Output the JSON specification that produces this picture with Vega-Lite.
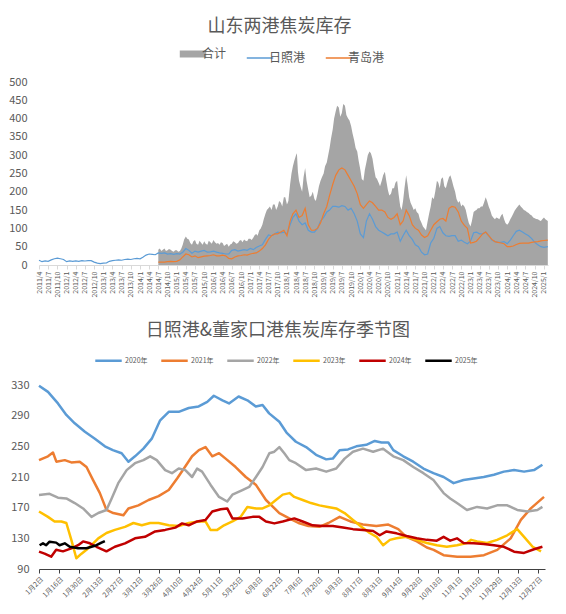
{
"$schema": "https://vega.github.io/schema/vega-lite/v6.json",
"background": "white",
"padding": {"left": 8, "top": 18, "right": 12, "bottom": 4},
"spacing": 24,
"resolve": {"scale": {"color": "independent"}, "legend": {"color": "independent"}},
"config": {
  "view": {"stroke": null},
  "font": "Noto Sans CJK SC",
  "title": {"font": "Noto Sans CJK SC", "fontSize": 18, "fontWeight": "normal", "color": "#595959", "anchor": "middle", "frame": "bounds"},
  "axis": {"grid": false, "labelColor": "#595959", "labelFont": "Noto Sans CJK SC", "title": null},
  "legend": {"labelColor": "#595959", "labelFont": "Noto Sans CJK SC", "title": null}
},
"vconcat": [
{
  "width": 509, "height": 183,
  "title": {"text": "山东两港焦炭库存", "offset": 12},
  "data": {"values": [
{"d":"2011-04-01","日照港":13},{"d":"2011-05-01","日照港":9},{"d":"2011-06-01","日照港":11},{"d":"2011-07-01","日照港":10},{"d":"2011-08-01","日照港":14},{"d":"2011-09-01","日照港":17},{"d":"2011-10-01","日照港":19},{"d":"2011-11-01","日照港":17},{"d":"2011-12-01","日照港":15},
{"d":"2012-01-01","日照港":9},{"d":"2012-02-01","日照港":11},{"d":"2012-03-01","日照港":10},{"d":"2012-04-01","日照港":11},{"d":"2012-05-01","日照港":10},{"d":"2012-06-01","日照港":12},{"d":"2012-07-01","日照港":11},{"d":"2012-08-01","日照港":12},{"d":"2012-09-01","日照港":12},{"d":"2012-10-01","日照港":8},{"d":"2012-11-01","日照港":5},{"d":"2012-12-01","日照港":4},
{"d":"2013-01-01","日照港":5},{"d":"2013-02-01","日照港":6},{"d":"2013-03-01","日照港":10},{"d":"2013-04-01","日照港":12},{"d":"2013-05-01","日照港":13},{"d":"2013-06-01","日照港":14},{"d":"2013-07-01","日照港":13},{"d":"2013-08-01","日照港":15},{"d":"2013-09-01","日照港":16},{"d":"2013-10-01","日照港":15},{"d":"2013-11-01","日照港":17},{"d":"2013-12-01","日照港":18},
{"d":"2014-01-01","日照港":17},{"d":"2014-02-01","日照港":22},{"d":"2014-03-01","日照港":27},{"d":"2014-04-01","日照港":30},{"d":"2014-05-01","日照港":29},{"d":"2014-06-01","日照港":28},
{"d":"2014-07-01","合计":42,"日照港":33,"青岛港":8},{"d":"2014-08-01","合计":38,"日照港":32,"青岛港":8},{"d":"2014-09-01","合计":45,"日照港":33,"青岛港":8},{"d":"2014-10-01","合计":40,"日照港":30,"青岛港":9},{"d":"2014-11-01","合计":42,"日照港":31,"青岛港":10},{"d":"2014-12-01","合计":36,"日照港":29,"青岛港":9},
{"d":"2015-01-01","合计":40,"日照港":31,"青岛港":10},{"d":"2015-02-01","合计":38,"日照港":30,"青岛港":14},{"d":"2015-03-01","合计":55,"日照港":35,"青岛港":22},{"d":"2015-04-01","合计":78,"日照港":45,"青岛港":30},{"d":"2015-05-01","合计":70,"日照港":40,"青岛港":28},{"d":"2015-06-01","合计":55,"日照港":32,"青岛港":22},{"d":"2015-07-01","合计":68,"日照港":38,"青岛港":25},{"d":"2015-08-01","合计":55,"日照港":35,"青岛港":20},{"d":"2015-09-01","合计":60,"日照港":38,"青岛港":22},{"d":"2015-10-01","合计":65,"日照港":40,"青岛港":24},{"d":"2015-11-01","合计":55,"日照港":35,"青岛港":25},{"d":"2015-12-01","合计":62,"日照港":36,"青岛港":26},
{"d":"2016-01-01","合计":68,"日照港":38,"青岛港":28},{"d":"2016-02-01","合计":58,"日照港":35,"青岛港":25},{"d":"2016-03-01","合计":55,"日照港":33,"青岛港":25},{"d":"2016-04-01","合计":60,"日照港":32,"青岛港":27},{"d":"2016-05-01","合计":55,"日照港":30,"青岛港":25},{"d":"2016-06-01","合计":50,"日照港":30,"青岛港":18},{"d":"2016-07-01","合计":58,"日照港":40,"青岛港":17},{"d":"2016-08-01","合计":62,"日照港":42,"青岛港":22},{"d":"2016-09-01","合计":60,"日照港":38,"青岛港":25},{"d":"2016-10-01","合计":68,"日照港":40,"青岛港":26},{"d":"2016-11-01","合计":70,"日照港":42,"青岛港":28},{"d":"2016-12-01","合计":65,"日照港":40,"青岛港":27},
{"d":"2017-01-01","合计":72,"日照港":45,"青岛港":30},{"d":"2017-02-01","合计":75,"日照港":42,"青岛港":32},{"d":"2017-03-01","合计":85,"日照港":48,"青岛港":33},{"d":"2017-04-01","合计":95,"日照港":52,"青岛港":38},{"d":"2017-05-01","合计":110,"日照港":55,"青岛港":45},{"d":"2017-06-01","合计":140,"日照港":70,"青岛港":55},{"d":"2017-07-01","合计":155,"日照港":82,"青岛港":70},{"d":"2017-08-01","合计":150,"日照港":80,"青岛港":80},{"d":"2017-09-01","合计":165,"日照港":85,"青岛港":85},{"d":"2017-10-01","合计":160,"日照港":90,"青岛港":85},{"d":"2017-11-01","合计":170,"日照港":88,"青岛港":90},{"d":"2017-12-01","合计":185,"日照港":90,"青岛港":95},
{"d":"2018-01-01","合计":165,"日照港":85,"青岛港":80},{"d":"2018-02-01","合计":220,"日照港":110,"青岛港":120},{"d":"2018-03-01","合计":270,"日照港":130,"青岛港":140},{"d":"2018-04-01","合计":300,"日照港":140,"青岛港":150},{"d":"2018-05-01","合计":230,"日照港":120,"青岛港":130},{"d":"2018-06-01","合计":200,"日照港":110,"青岛港":135},{"d":"2018-07-01","合计":265,"日照港":115,"青岛港":155},{"d":"2018-08-01","合计":205,"日照港":95,"青岛港":110},{"d":"2018-09-01","合计":190,"日照港":90,"青岛港":95},{"d":"2018-10-01","合计":180,"日照港":90,"青岛港":95},{"d":"2018-11-01","合计":195,"日照港":100,"青岛港":100},{"d":"2018-12-01","合计":230,"日照港":120,"青岛港":115},
{"d":"2019-01-01","合计":250,"日照港":130,"青岛港":140},{"d":"2019-02-01","合计":280,"日照港":145,"青岛港":160},{"d":"2019-03-01","合计":320,"日照港":150,"青岛港":190},{"d":"2019-04-01","合计":370,"日照港":160,"青岛港":220},{"d":"2019-05-01","合计":420,"日照港":160,"青岛港":245},{"d":"2019-06-01","合计":430,"日照港":158,"青岛港":260},{"d":"2019-07-01","合计":415,"日照港":162,"青岛港":265},{"d":"2019-08-01","合计":435,"日照港":160,"青岛港":260},{"d":"2019-09-01","合计":400,"日照港":150,"青岛港":245},{"d":"2019-10-01","合计":380,"日照港":155,"青岛港":230},{"d":"2019-11-01","合计":340,"日照港":140,"青岛港":215},{"d":"2019-12-01","合计":310,"日照港":120,"青岛港":195},
{"d":"2020-01-01","合计":260,"日照港":85,"青岛港":165},{"d":"2020-02-01","合计":230,"日照港":75,"青岛港":155},{"d":"2020-03-01","合计":280,"日照港":120,"青岛港":165},{"d":"2020-04-01","合计":310,"日照港":140,"青岛港":175},{"d":"2020-05-01","合计":290,"日照港":125,"青岛港":170},{"d":"2020-06-01","合计":240,"日照港":105,"青岛港":160},{"d":"2020-07-01","合计":225,"日照港":95,"青岛港":150},{"d":"2020-08-01","合计":230,"日照港":90,"青岛港":150},{"d":"2020-09-01","合计":255,"日照港":85,"青岛港":145},{"d":"2020-10-01","合计":205,"日照港":80,"青岛港":130},{"d":"2020-11-01","合计":195,"日照港":85,"青岛港":125},{"d":"2020-12-01","合计":210,"日照港":85,"青岛港":130},
{"d":"2021-01-01","合计":230,"日照港":90,"青岛港":140},{"d":"2021-02-01","合计":160,"日照港":65,"青岛港":110},{"d":"2021-03-01","合计":175,"日照港":80,"青岛港":120},{"d":"2021-04-01","合计":245,"日照港":95,"青岛港":150},{"d":"2021-05-01","合计":185,"日照港":80,"青岛港":135},{"d":"2021-06-01","合计":160,"日照港":70,"青岛港":110},{"d":"2021-07-01","合计":155,"日照港":55,"青岛港":100},{"d":"2021-08-01","合计":140,"日照港":50,"青岛港":95},{"d":"2021-09-01","合计":115,"日照港":35,"青岛港":82},{"d":"2021-10-01","合计":100,"日照港":28,"青岛港":75},{"d":"2021-11-01","合计":120,"日照港":30,"青岛港":80},{"d":"2021-12-01","合计":160,"日照港":60,"青岛港":95},
{"d":"2022-01-01","合计":180,"日照港":73,"青岛港":110},{"d":"2022-02-01","合计":230,"日照港":100,"青岛港":118},{"d":"2022-03-01","合计":210,"日照港":105,"青岛港":125},{"d":"2022-04-01","合计":240,"日照港":88,"青岛港":127},{"d":"2022-05-01","合计":210,"日照港":80,"青岛港":120},{"d":"2022-06-01","合计":240,"日照港":78,"青岛港":155},{"d":"2022-07-01","合计":230,"日照港":80,"青岛港":160},{"d":"2022-08-01","合计":200,"日照港":80,"青岛港":158},{"d":"2022-09-01","合计":170,"日照港":65,"青岛港":145},{"d":"2022-10-01","合计":160,"日照港":68,"青岛港":120},{"d":"2022-11-01","合计":160,"日照港":62,"青岛港":108},{"d":"2022-12-01","合计":130,"日照港":58,"青岛港":100},
{"d":"2023-01-01","合计":105,"日照港":65,"青岛港":60},{"d":"2023-02-01","合计":145,"日照港":88,"青岛港":62},{"d":"2023-03-01","合计":150,"日照港":90,"青岛港":65},{"d":"2023-04-01","合计":155,"日照港":85,"青岛港":75},{"d":"2023-05-01","合计":160,"日照港":85,"青岛港":85},{"d":"2023-06-01","合计":185,"日照港":90,"青岛港":90},{"d":"2023-07-01","合计":160,"日照港":80,"青岛港":80},{"d":"2023-08-01","合计":135,"日照港":68,"青岛港":70},{"d":"2023-09-01","合计":125,"日照港":64,"青岛港":64},{"d":"2023-10-01","合计":128,"日照港":62,"青岛港":62},{"d":"2023-11-01","合计":135,"日照港":62,"青岛港":60},{"d":"2023-12-01","合计":125,"日照港":64,"青岛港":58},
{"d":"2024-01-01","合计":110,"日照港":58,"青岛港":50},{"d":"2024-02-01","合计":125,"日照港":68,"青岛港":50},{"d":"2024-03-01","合计":140,"日照港":80,"青岛港":52},{"d":"2024-04-01","合计":155,"日照港":92,"青岛港":56},{"d":"2024-05-01","合计":165,"日照港":95,"青岛港":59},{"d":"2024-06-01","合计":155,"日照港":90,"青岛港":60},{"d":"2024-07-01","合计":148,"日照港":85,"青岛港":60},{"d":"2024-08-01","合计":142,"日照港":80,"青岛港":60},{"d":"2024-09-01","合计":135,"日照港":72,"青岛港":62},{"d":"2024-10-01","合计":128,"日照港":62,"青岛港":63},{"d":"2024-11-01","合计":125,"日照港":55,"青岛港":64},{"d":"2024-12-01","合计":120,"日照港":50,"青岛港":66},
{"d":"2025-01-01","合计":130,"日照港":48,"青岛港":67},{"d":"2025-02-08","合计":120,"日照港":50,"青岛港":68},
{"d":"2014-07-15","合计":45},{"d":"2014-08-15","合计":42},{"d":"2014-09-15","合计":38},{"d":"2014-10-15","合计":44},{"d":"2014-11-15","合计":38},{"d":"2014-12-15","合计":40},
{"d":"2015-01-15","合计":36},{"d":"2015-02-15","合计":45},{"d":"2015-03-15","合计":70},{"d":"2015-04-15","合计":72},{"d":"2015-05-15","合计":60},{"d":"2015-06-15","合计":65},{"d":"2015-07-15","合计":58},{"d":"2015-08-15","合计":66},{"d":"2015-09-15","合计":55},{"d":"2015-10-15","合计":58},{"d":"2015-11-15","合计":66},{"d":"2015-12-15","合计":58},
{"d":"2016-01-15","合计":62},{"d":"2016-02-15","合计":60},{"d":"2016-03-15","合计":62},{"d":"2016-04-15","合计":52},{"d":"2016-05-15","合计":58},{"d":"2016-06-15","合计":56},{"d":"2016-07-15","合计":65},{"d":"2016-08-15","合计":58},{"d":"2016-09-15","合计":66},{"d":"2016-10-15","合计":62},{"d":"2016-11-15","合计":66},{"d":"2016-12-15","合计":72},
{"d":"2017-01-15","合计":68},{"d":"2017-02-15","合计":82},{"d":"2017-03-15","合计":80},{"d":"2017-04-15","合计":100},{"d":"2017-05-15","合计":125},{"d":"2017-06-15","合计":150},{"d":"2017-07-15","合计":160},{"d":"2017-08-15","合计":165},{"d":"2017-09-15","合计":150},{"d":"2017-10-15","合计":175},{"d":"2017-11-15","合计":160},{"d":"2017-12-15","合计":185},
{"d":"2018-01-15","合计":175},{"d":"2018-02-15","合计":250},{"d":"2018-03-15","合计":285},{"d":"2018-04-10","合计":305},{"d":"2018-04-20","合计":255},{"d":"2018-05-15","合计":215},{"d":"2018-06-15","合计":240},{"d":"2018-07-15","合计":230},{"d":"2018-08-15","合计":185},{"d":"2018-09-15","合计":200},{"d":"2018-10-15","合计":175},{"d":"2018-11-15","合计":215},{"d":"2018-12-15","合计":240},
{"d":"2019-01-15","合计":270},{"d":"2019-02-15","合计":300},{"d":"2019-03-15","合计":345},{"d":"2019-04-15","合计":400},{"d":"2019-05-15","合计":435},{"d":"2019-06-15","合计":405},{"d":"2019-07-15","合计":440},{"d":"2019-08-15","合计":410},{"d":"2019-09-15","合计":395},{"d":"2019-10-15","合计":360},{"d":"2019-11-15","合计":320},{"d":"2019-12-15","合计":285},
{"d":"2020-01-15","合计":235},{"d":"2020-02-15","合计":260},{"d":"2020-03-15","合计":300},{"d":"2020-04-15","合计":305},{"d":"2020-05-15","合计":265},{"d":"2020-06-15","合计":235},{"d":"2020-07-15","合计":215},{"d":"2020-08-15","合计":245},{"d":"2020-09-15","合计":230},{"d":"2020-10-15","合计":190},{"d":"2020-11-15","合计":210},{"d":"2020-12-15","合计":225},
{"d":"2021-01-15","合计":195},{"d":"2021-02-15","合计":150},{"d":"2021-03-15","合计":210},{"d":"2021-04-15","合计":220},{"d":"2021-05-15","合计":170},{"d":"2021-06-15","合计":150},{"d":"2021-07-15","合计":145},{"d":"2021-08-15","合计":125},{"d":"2021-09-15","合计":105},{"d":"2021-10-15","合计":95},{"d":"2021-11-15","合计":140},{"d":"2021-12-15","合计":185},
{"d":"2022-01-15","合计":200},{"d":"2022-02-15","合计":225},{"d":"2022-03-15","合计":235},{"d":"2022-04-15","合计":215},{"d":"2022-05-15","合计":225},{"d":"2022-06-15","合计":245},{"d":"2022-07-15","合计":215},{"d":"2022-08-15","合计":180},{"d":"2022-09-15","合计":175},{"d":"2022-10-15","合计":165},{"d":"2022-11-15","合计":150},{"d":"2022-12-15","合计":115},
{"d":"2023-01-15","合计":120},{"d":"2023-02-15","合计":148},{"d":"2023-03-15","合计":155},{"d":"2023-04-15","合计":160},{"d":"2023-05-15","合计":170},{"d":"2023-06-15","合计":175},{"d":"2023-07-15","合计":150},{"d":"2023-08-15","合计":130},{"d":"2023-09-15","合计":130},{"d":"2023-10-15","合计":125},{"d":"2023-11-15","合计":140},{"d":"2023-12-15","合计":115},
{"d":"2024-01-15","合计":115},{"d":"2024-02-15","合计":132},{"d":"2024-03-15","合计":148},{"d":"2024-04-15","合计":160},{"d":"2024-05-15","合计":160},{"d":"2024-06-15","合计":150},{"d":"2024-07-15","合计":145},{"d":"2024-08-15","合计":138},{"d":"2024-09-15","合计":130},{"d":"2024-10-15","合计":126},{"d":"2024-11-15","合计":122},{"d":"2024-12-15","合计":125},{"d":"2025-01-15","合计":125}
  ]},
  "transform": [{"fold": ["合计", "日照港", "青岛港"], "as": ["s", "v"]}, {"filter": "isValid(datum.v)"}],
  "encoding": {
    "x": {"field": "d", "type": "temporal",
      "scale": {"type": "utc", "domain": [{"year": 2011, "month": 4, "date": 1, "utc": true}, {"year": 2025, "month": 2, "date": 10, "utc": true}]},
      "axis": {"labelExpr": "utcFormat(datum.value, '%Y/%-m')", "tickCount": {"interval": "month", "step": 3}, "labelAngle": -90, "labelFontSize": 7, "labelOverlap": false, "labelBound": false, "labelFlush": false, "domainColor": "#d9d9d9", "tickColor": "#d9d9d9", "tickSize": 4, "labelPadding": 2}},
    "y": {"field": "v", "type": "quantitative", "scale": {"domain": [0, 500], "nice": false},
      "axis": {"values": [0, 50, 100, 150, 200, 250, 300, 350, 400, 450, 500], "domain": false, "ticks": false, "labelFontSize": 11, "labelPadding": 12}},
    "color": {"field": "s", "type": "nominal",
      "scale": {"domain": ["合计", "日照港", "青岛港"], "range": ["#a5a5a5", "#5b9bd5", "#ed7d31"]},
      "legend": {"orient": "none", "legendX": 148, "legendY": -34, "direction": "horizontal", "symbolType": "stroke", "symbolSize": 700, "symbolStrokeWidth": 1.5, "labelFontSize": 12, "columnPadding": 16, "labelOffset": 3,
        "encode": {"symbols": {"update": {"strokeWidth": {"signal": "datum.label == '合计' ? 7 : 1.5"}}}}}}
  },
  "layer": [
    {"transform": [{"filter": "datum.s == '合计'"}], "mark": {"type": "area", "opacity": 1}},
    {"transform": [{"filter": "datum.s != '合计'"}], "mark": {"type": "line", "strokeWidth": 1.2}}
  ]
},
{
  "width": 506, "height": 184,
  "title": {"text": "日照港&董家口港焦炭库存季节图", "offset": 6},
  "data": {"values": [
{"y":"2020年","i":0,"v":329},{"y":"2020年","i":4.5,"v":321},{"y":"2020年","i":9.5,"v":306},{"y":"2020年","i":13.7,"v":291},{"y":"2020年","i":17.9,"v":280},{"y":"2020年","i":23,"v":269},{"y":"2020年","i":28,"v":260},{"y":"2020年","i":33,"v":250},{"y":"2020年","i":37,"v":245},{"y":"2020年","i":41.4,"v":241},{"y":"2020年","i":44.8,"v":230},{"y":"2020年","i":48.1,"v":237},{"y":"2020年","i":52.3,"v":247},{"y":"2020年","i":56.5,"v":260},{"y":"2020年","i":60.7,"v":284},{"y":"2020年","i":65,"v":295},{"y":"2020年","i":70,"v":295},{"y":"2020年","i":75,"v":300},{"y":"2020年","i":80,"v":302},{"y":"2020年","i":84.3,"v":308},{"y":"2020年","i":87.6,"v":316},{"y":"2020年","i":91.9,"v":310},{"y":"2020年","i":95.2,"v":306},{"y":"2020年","i":100,"v":315},{"y":"2020年","i":104.4,"v":310},{"y":"2020年","i":108.6,"v":302},{"y":"2020年","i":112,"v":304},{"y":"2020年","i":115.3,"v":293},{"y":"2020年","i":120.4,"v":282},{"y":"2020年","i":124,"v":268},{"y":"2020年","i":128.7,"v":256},{"y":"2020年","i":133.8,"v":249},{"y":"2020年","i":138.8,"v":239},{"y":"2020年","i":143.9,"v":233},{"y":"2020年","i":147.2,"v":234},{"y":"2020年","i":150.6,"v":245},{"y":"2020年","i":154.8,"v":246},{"y":"2020年","i":159,"v":250},{"y":"2020年","i":164,"v":252},{"y":"2020年","i":168.2,"v":257},{"y":"2020年","i":171.6,"v":255},{"y":"2020年","i":175,"v":255},{"y":"2020年","i":177.5,"v":245},{"y":"2020年","i":182.5,"v":237},{"y":"2020年","i":187.5,"v":230},{"y":"2020年","i":192.6,"v":221},{"y":"2020年","i":197.6,"v":215},{"y":"2020年","i":202.7,"v":210},{"y":"2020年","i":207.7,"v":202},{"y":"2020年","i":212.7,"v":206},{"y":"2020年","i":217.8,"v":208},{"y":"2020年","i":222.8,"v":210},{"y":"2020年","i":227.9,"v":213},{"y":"2020年","i":232.9,"v":217},{"y":"2020年","i":238,"v":219},{"y":"2020年","i":243,"v":217},{"y":"2020年","i":248,"v":219},{"y":"2020年","i":252.2,"v":226},
{"y":"2021年","i":0,"v":232},{"y":"2021年","i":4.5,"v":237},{"y":"2021年","i":7,"v":242},{"y":"2021年","i":8.7,"v":230},{"y":"2021年","i":12.9,"v":232},{"y":"2021年","i":16.2,"v":229},{"y":"2021年","i":20.4,"v":230},{"y":"2021年","i":23.8,"v":223},{"y":"2021年","i":27.1,"v":206},{"y":"2021年","i":30.5,"v":189},{"y":"2021年","i":33.8,"v":167},{"y":"2021年","i":37.2,"v":163},{"y":"2021年","i":42.3,"v":160},{"y":"2021年","i":44.8,"v":169},{"y":"2021年","i":49.8,"v":173},{"y":"2021年","i":54.9,"v":180},{"y":"2021年","i":59.9,"v":185},{"y":"2021年","i":65,"v":193},{"y":"2021年","i":69.2,"v":208},{"y":"2021年","i":72.6,"v":221},{"y":"2021年","i":76.7,"v":237},{"y":"2021年","i":80.1,"v":245},{"y":"2021年","i":83.4,"v":249},{"y":"2021年","i":86.8,"v":237},{"y":"2021年","i":90.2,"v":241},{"y":"2021年","i":93.5,"v":234},{"y":"2021年","i":98.5,"v":223},{"y":"2021年","i":103.6,"v":210},{"y":"2021年","i":108.6,"v":200},{"y":"2021年","i":113.7,"v":180},{"y":"2021年","i":120.4,"v":163},{"y":"2021年","i":125.4,"v":156},{"y":"2021年","i":130,"v":150},{"y":"2021年","i":135,"v":146},{"y":"2021年","i":140.5,"v":145},{"y":"2021年","i":145,"v":150},{"y":"2021年","i":150.6,"v":158},{"y":"2021年","i":156,"v":152},{"y":"2021年","i":162.3,"v":148},{"y":"2021年","i":169,"v":146},{"y":"2021年","i":175,"v":148},{"y":"2021年","i":180,"v":142},{"y":"2021年","i":184,"v":132},{"y":"2021年","i":189.3,"v":126},{"y":"2021年","i":194.3,"v":118},{"y":"2021年","i":197.7,"v":115},{"y":"2021年","i":202.7,"v":108},{"y":"2021年","i":209.5,"v":106},{"y":"2021年","i":216.2,"v":106},{"y":"2021年","i":222.9,"v":108},{"y":"2021年","i":229.6,"v":115},{"y":"2021年","i":236.3,"v":130},{"y":"2021年","i":241.4,"v":154},{"y":"2021年","i":246.4,"v":169},{"y":"2021年","i":253,"v":184},
{"y":"2022年","i":0,"v":186.5},{"y":"2022年","i":5.3,"v":188},{"y":"2022年","i":9.5,"v":183},{"y":"2022年","i":13.7,"v":182},{"y":"2022年","i":17.9,"v":176},{"y":"2022年","i":22.1,"v":169},{"y":"2022年","i":26.3,"v":158},{"y":"2022年","i":29.7,"v":163},{"y":"2022年","i":33.8,"v":167},{"y":"2022年","i":36.4,"v":182},{"y":"2022年","i":39.7,"v":202},{"y":"2022年","i":43.9,"v":219},{"y":"2022年","i":48.1,"v":228},{"y":"2022年","i":52.3,"v":232},{"y":"2022年","i":55.7,"v":237},{"y":"2022年","i":59,"v":232},{"y":"2022年","i":63.2,"v":219},{"y":"2022年","i":66.6,"v":215},{"y":"2022年","i":70,"v":221},{"y":"2022年","i":73.3,"v":219},{"y":"2022年","i":76.7,"v":210},{"y":"2022年","i":79.2,"v":221},{"y":"2022年","i":81.7,"v":217},{"y":"2022年","i":85.9,"v":200},{"y":"2022年","i":90.2,"v":184},{"y":"2022年","i":94.3,"v":178},{"y":"2022年","i":96.9,"v":187},{"y":"2022年","i":101.9,"v":193},{"y":"2022年","i":105.3,"v":197},{"y":"2022年","i":108.7,"v":210},{"y":"2022年","i":112,"v":223},{"y":"2022年","i":115.4,"v":241},{"y":"2022年","i":117.9,"v":243},{"y":"2022年","i":120.4,"v":249},{"y":"2022年","i":122.9,"v":241},{"y":"2022年","i":125.4,"v":232},{"y":"2022年","i":128.7,"v":228},{"y":"2022年","i":133.8,"v":219},{"y":"2022年","i":138.8,"v":221},{"y":"2022年","i":143.9,"v":217},{"y":"2022年","i":148.9,"v":221},{"y":"2022年","i":153.1,"v":234},{"y":"2022年","i":157.3,"v":243},{"y":"2022年","i":162.3,"v":247},{"y":"2022年","i":167.4,"v":243},{"y":"2022年","i":172.4,"v":247},{"y":"2022年","i":177.5,"v":237},{"y":"2022年","i":182.5,"v":232},{"y":"2022年","i":187.5,"v":223},{"y":"2022年","i":192.6,"v":215},{"y":"2022年","i":197.6,"v":206},{"y":"2022年","i":202.7,"v":189},{"y":"2022年","i":206,"v":182},{"y":"2022年","i":209.4,"v":176},{"y":"2022年","i":214.4,"v":167},{"y":"2022年","i":219.5,"v":171},{"y":"2022年","i":224.5,"v":169},{"y":"2022年","i":229.5,"v":173},{"y":"2022年","i":234.6,"v":173},{"y":"2022年","i":239.6,"v":167},{"y":"2022年","i":244.7,"v":165},{"y":"2022年","i":249.7,"v":167},{"y":"2022年","i":252.2,"v":171},
{"y":"2023年","i":0,"v":165},{"y":"2023年","i":4.5,"v":158},{"y":"2023年","i":7.8,"v":152},{"y":"2023年","i":11.2,"v":152},{"y":"2023年","i":13.7,"v":150},{"y":"2023年","i":16.2,"v":128},{"y":"2023年","i":18.7,"v":104},{"y":"2023年","i":21.3,"v":110},{"y":"2023年","i":23.8,"v":115},{"y":"2023年","i":26.3,"v":121},{"y":"2023年","i":29.7,"v":130},{"y":"2023年","i":33.8,"v":137},{"y":"2023年","i":38,"v":141},{"y":"2023年","i":43.1,"v":145},{"y":"2023年","i":47.3,"v":150},{"y":"2023年","i":51.5,"v":147},{"y":"2023年","i":55.7,"v":150},{"y":"2023年","i":59.9,"v":150},{"y":"2023年","i":65,"v":147},{"y":"2023年","i":70,"v":146},{"y":"2023年","i":75,"v":150},{"y":"2023年","i":80,"v":152},{"y":"2023年","i":83.4,"v":152},{"y":"2023年","i":85.9,"v":141},{"y":"2023年","i":89.3,"v":141},{"y":"2023年","i":92.7,"v":147},{"y":"2023年","i":96.9,"v":152},{"y":"2023年","i":101,"v":158},{"y":"2023年","i":104.4,"v":171},{"y":"2023年","i":108.7,"v":169},{"y":"2023年","i":112,"v":169},{"y":"2023年","i":115.4,"v":173},{"y":"2023年","i":118.7,"v":180},{"y":"2023年","i":122.1,"v":187},{"y":"2023年","i":125.5,"v":189},{"y":"2023年","i":127.9,"v":184},{"y":"2023年","i":132.1,"v":180},{"y":"2023年","i":136.3,"v":176},{"y":"2023年","i":140.5,"v":173},{"y":"2023年","i":144.7,"v":171},{"y":"2023年","i":148.9,"v":169},{"y":"2023年","i":153.1,"v":163},{"y":"2023年","i":157.3,"v":154},{"y":"2023年","i":161.5,"v":145},{"y":"2023年","i":165.7,"v":137},{"y":"2023年","i":169.1,"v":132},{"y":"2023年","i":172.4,"v":121},{"y":"2023年","i":175.8,"v":128},{"y":"2023年","i":179.1,"v":130},{"y":"2023年","i":184.2,"v":132},{"y":"2023年","i":189.2,"v":128},{"y":"2023年","i":194.3,"v":124},{"y":"2023年","i":199.3,"v":121},{"y":"2023年","i":204.3,"v":119},{"y":"2023年","i":209.4,"v":121},{"y":"2023年","i":214.4,"v":124},{"y":"2023年","i":216.5,"v":128},{"y":"2023年","i":219.5,"v":126},{"y":"2023年","i":224.5,"v":124},{"y":"2023年","i":229.5,"v":128},{"y":"2023年","i":234.6,"v":134},{"y":"2023年","i":239.6,"v":142},{"y":"2023年","i":243,"v":132},{"y":"2023年","i":247.3,"v":119},{"y":"2023年","i":251.5,"v":113},
{"y":"2024年","i":0,"v":112.6},{"y":"2024年","i":2.8,"v":110},{"y":"2024年","i":6.1,"v":106},{"y":"2024年","i":8.6,"v":115},{"y":"2024年","i":12,"v":113},{"y":"2024年","i":16.2,"v":117},{"y":"2024年","i":19.6,"v":121},{"y":"2024年","i":22.1,"v":126},{"y":"2024年","i":25.5,"v":123.5},{"y":"2024年","i":28.8,"v":119},{"y":"2024年","i":33.8,"v":113},{"y":"2024年","i":38,"v":119},{"y":"2024年","i":43.1,"v":123.5},{"y":"2024年","i":48.1,"v":130},{"y":"2024年","i":53.1,"v":132},{"y":"2024年","i":58.2,"v":139},{"y":"2024年","i":63.2,"v":141},{"y":"2024年","i":68.3,"v":144},{"y":"2024年","i":71.7,"v":149.5},{"y":"2024年","i":75,"v":147},{"y":"2024年","i":79.2,"v":152},{"y":"2024年","i":83.4,"v":154},{"y":"2024年","i":86.8,"v":165},{"y":"2024年","i":91,"v":168},{"y":"2024年","i":94.3,"v":169},{"y":"2024年","i":96.9,"v":156},{"y":"2024年","i":101.9,"v":156},{"y":"2024年","i":107,"v":158},{"y":"2024年","i":110.4,"v":158},{"y":"2024年","i":113.7,"v":152},{"y":"2024年","i":117.9,"v":149.5},{"y":"2024年","i":122.1,"v":152},{"y":"2024年","i":127.9,"v":156},{"y":"2024年","i":132.1,"v":152},{"y":"2024年","i":137.1,"v":147},{"y":"2024年","i":142.2,"v":146},{"y":"2024年","i":147.2,"v":146},{"y":"2024年","i":152.3,"v":144},{"y":"2024年","i":157.3,"v":142},{"y":"2024年","i":162.3,"v":141},{"y":"2024年","i":167.4,"v":139.5},{"y":"2024年","i":170.7,"v":134},{"y":"2024年","i":174.1,"v":139},{"y":"2024年","i":179.1,"v":136.5},{"y":"2024年","i":184.2,"v":133},{"y":"2024年","i":189.2,"v":130},{"y":"2024年","i":194.3,"v":128},{"y":"2024年","i":199.3,"v":127},{"y":"2024年","i":202.7,"v":132},{"y":"2024年","i":206,"v":127},{"y":"2024年","i":209.4,"v":130},{"y":"2024年","i":212.7,"v":124},{"y":"2024年","i":217.8,"v":123.5},{"y":"2024年","i":222.8,"v":122.6},{"y":"2024年","i":227.9,"v":121},{"y":"2024年","i":232.9,"v":119},{"y":"2024年","i":238,"v":112.6},{"y":"2024年","i":243,"v":111},{"y":"2024年","i":248,"v":115.7},{"y":"2024年","i":252.2,"v":119},
{"y":"2025年","i":0.3,"v":121},{"y":"2025年","i":2,"v":123.5},{"y":"2025年","i":3.6,"v":121},{"y":"2025年","i":5.3,"v":125.6},{"y":"2025年","i":8.6,"v":124.4},{"y":"2025年","i":10.3,"v":121},{"y":"2025年","i":12.9,"v":123.5},{"y":"2025年","i":15.4,"v":119},{"y":"2025年","i":19.6,"v":117},{"y":"2025年","i":23.8,"v":117},{"y":"2025年","i":26.3,"v":119},{"y":"2025年","i":28.8,"v":121},{"y":"2025年","i":31.3,"v":124.4},{"y":"2025年","i":33,"v":126.5}
  ]},
  "mark": {"type": "line", "strokeWidth": 2.5, "strokeJoin": "round"},
  "encoding": {
    "x": {"field": "i", "type": "quantitative", "scale": {"domain": [0, 253.5], "nice": false, "zero": false},
      "axis": {"values": [0, 10, 20, 30, 40, 50, 60, 70, 80, 90, 100, 110, 120, 130, 140, 150, 160, 170, 180, 190, 200, 210, 220, 230, 240, 250],
        "labelExpr": "['1月2日','1月16日','1月30日','2月13日','2月27日','3月12日','3月26日','4月10日','4月24日','5月11日','5月25日','6月8日','6月22日','7月6日','7月20日','8月3日','8月17日','8月31日','9月14日','9月28日','10月18日','11月1日','11月15日','11月29日','12月13日','12月27日'][round(datum.value/10)]",
        "labelAngle": -45, "labelFontSize": 7, "labelOverlap": false, "labelBound": false, "labelFlush": false, "domainColor": "#404040", "tickColor": "#404040", "tickSize": 4, "labelPadding": 2}},
    "y": {"field": "v", "type": "quantitative", "scale": {"domain": [90, 330], "nice": false, "zero": false},
      "axis": {"values": [90, 130, 170, 210, 250, 290, 330], "domain": false, "ticks": false, "labelFontSize": 11, "labelPadding": 10}},
    "color": {"field": "y", "type": "nominal",
      "scale": {"domain": ["2020年", "2021年", "2022年", "2023年", "2024年", "2025年"], "range": ["#5b9bd5", "#ed7d31", "#a5a5a5", "#ffc000", "#c00000", "#000000"]},
      "legend": {"orient": "none", "legendX": 55, "legendY": -39, "direction": "horizontal", "symbolType": "stroke", "symbolSize": 700, "symbolStrokeWidth": 2.5, "labelFontSize": 7, "columnPadding": 8, "labelOffset": 2}}
  }
}
]
}
